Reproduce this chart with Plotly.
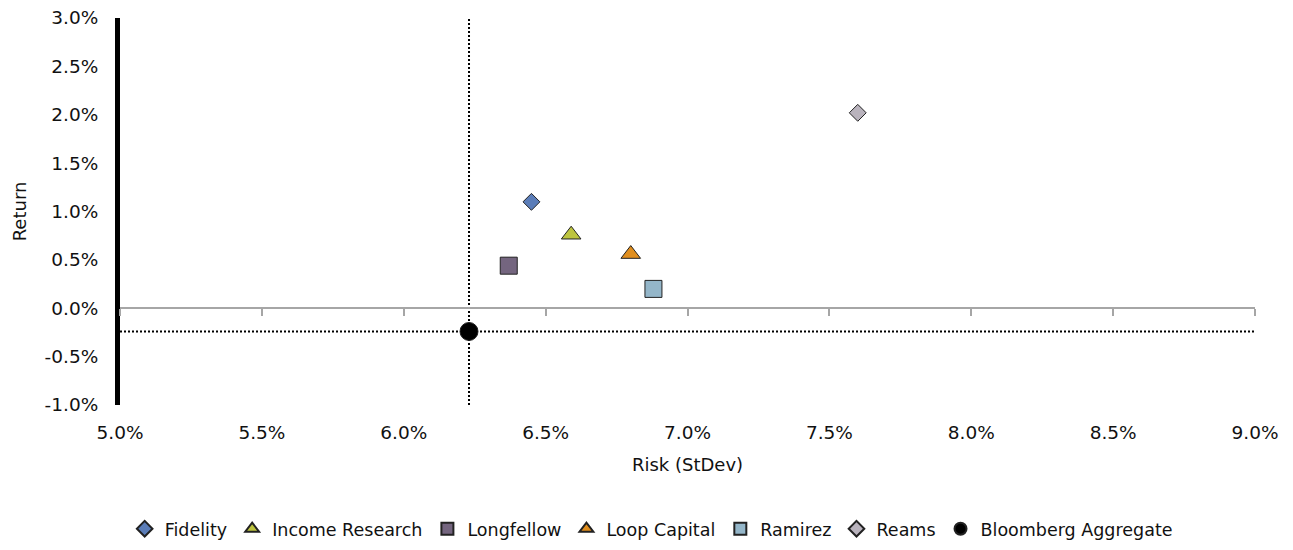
import plotly.graph_objects as go

managers = ["Fidelity", "Income Research", "Longfellow", "Loop Capital", "Ramirez", "Reams", "Bloomberg Aggregate"]
risk = [6.45, 6.59, 6.37, 6.80, 6.88, 7.60, 6.23]
ret = [1.10, 0.76, 0.44, 0.56, 0.20, 2.02, -0.24]
symbols = ["diamond", "triangle-up", "square", "triangle-up", "square", "diamond", "circle"]
colors = ["#5B7DB8", "#BDC43F", "#74657F", "#E08E1E", "#94B6C9", "#B9B3BD", "#000000"]
sizes = [13, 17, 17, 17, 17, 13, 18]

x_range = [5.0, 9.0]
y_range = [-1.0, 3.0]
x_ticks = [5.0, 5.5, 6.0, 6.5, 7.0, 7.5, 8.0, 8.5, 9.0]
y_ticks = [-1.0, -0.5, 0.0, 0.5, 1.0, 1.5, 2.0, 2.5, 3.0]

FONT = "DejaVu Sans"

fig = go.Figure()

bench_x = risk[-1]
bench_y = ret[-1]
# dotted benchmark reference lines
fig.add_trace(go.Scatter(x=[bench_x, bench_x], y=y_range, mode="lines",
                         line=dict(color="black", width=2, dash="2px,2px"),
                         showlegend=False, hoverinfo="skip"))
fig.add_trace(go.Scatter(x=x_range, y=[bench_y, bench_y], mode="lines",
                         line=dict(color="black", width=2, dash="2px,2px"),
                         showlegend=False, hoverinfo="skip"))

for name, xv, yv, sym, col, sz in zip(managers, risk, ret, symbols, colors, sizes):
    fig.add_trace(go.Scatter(
        x=[xv], y=[yv], mode="markers", name=name,
        marker=dict(symbol=sym, color=col, size=sz,
                    line=dict(color="#222222", width=1)),
    ))

fig.update_layout(
    width=1293, height=550,
    margin=dict(l=120, r=38, t=18, b=145, autoexpand=False),
    paper_bgcolor="white", plot_bgcolor="white",
    font=dict(family=FONT, size=18, color="#111111"),
    showlegend=True,
    legend=dict(orientation="h", x=0.468, xanchor="center", y=-0.32, yanchor="middle",
                font=dict(size=17.5, family=FONT), itemsizing="constant",
                itemwidth=30, traceorder="normal"),
    xaxis=dict(range=x_range, tickvals=x_ticks, ticktext=[f"{v:.1f}%" for v in x_ticks],
               showgrid=False, zeroline=False, showline=False, ticks="",
               tickfont=dict(size=18.5),
               title=dict(text="Risk (StDev)", font=dict(size=18), standoff=16),
               ticklabelstandoff=14),
    xaxis2=dict(range=x_range, tickvals=x_ticks, overlaying="x", anchor="free",
                position=0.25, side="bottom", showline=True, linecolor="#A6A6A6",
                linewidth=2, ticks="outside", ticklen=7, tickwidth=2, tickcolor="#A6A6A6",
                showticklabels=False, showgrid=False, zeroline=False),
    yaxis=dict(range=y_range, tickvals=y_ticks, ticktext=[f"{v:.1f}%" for v in y_ticks],
               showgrid=False, zeroline=False, showline=True, linecolor="black",
               linewidth=5, ticks="", ticklabelstandoff=13, tickfont=dict(size=18.5),
               title=dict(text="Return", font=dict(size=18), standoff=15)),
)

# attach a hidden trace to xaxis2 so it renders
fig.add_trace(go.Scatter(x=[x_range[0]], y=[y_range[0]], xaxis="x2", mode="markers",
                         marker=dict(opacity=0), showlegend=False, hoverinfo="skip"))

fig.write_html("out.html", config={"displayModeBar": False},
               post_script="document.body.style.margin='0px';")
